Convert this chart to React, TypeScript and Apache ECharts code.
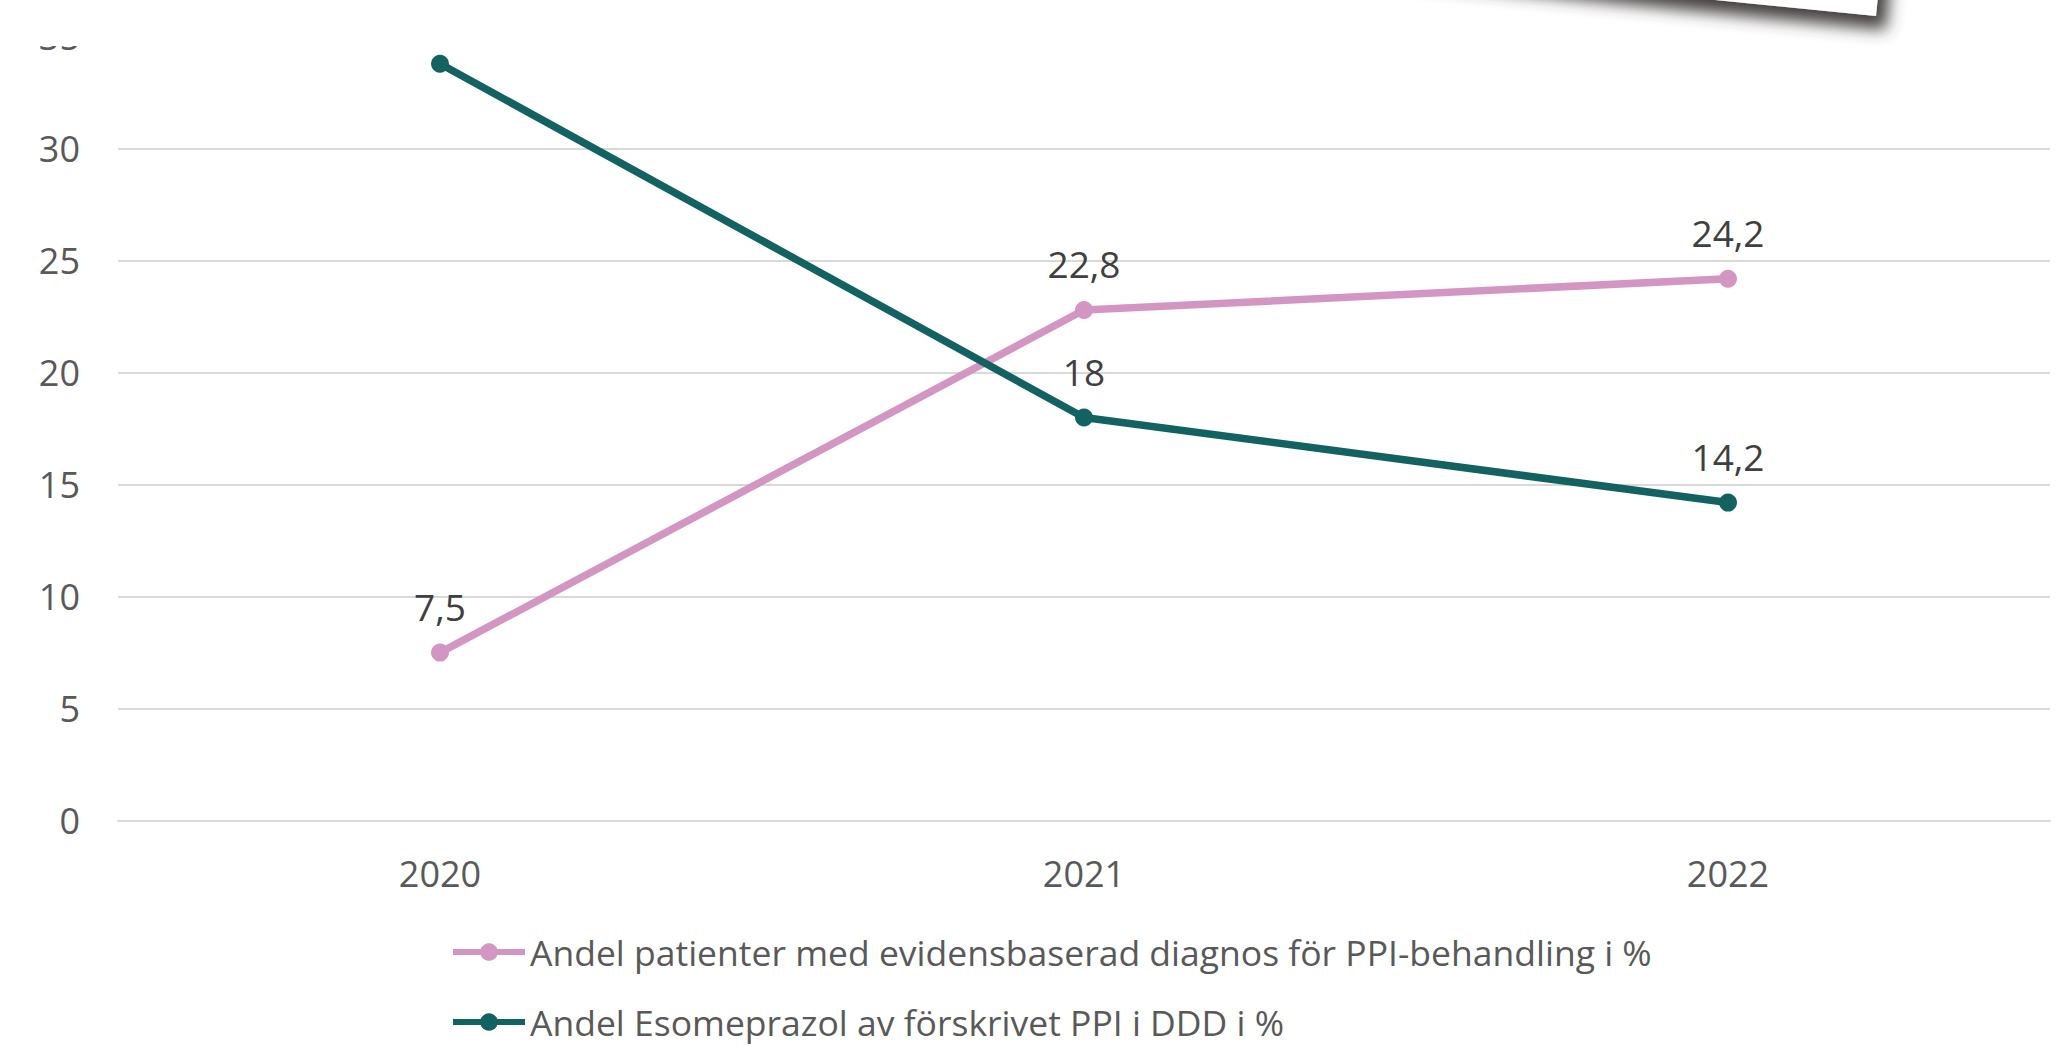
import React, { useEffect, useRef } from "react";
import * as echarts from "echarts";

const categories = ["2020", "2021", "2022"];
const pinkName = "Andel patienter med evidensbaserad diagnos för PPI-behandling i %";
const tealName = "Andel Esomeprazol av förskrivet PPI i DDD i %";
const pinkValues = [7.5, 22.8, 24.2];
const tealValues = [33.8, 18, 14.2];
const tealHiddenLabels = [true, false, false];
const yMin = 0;
const yMax = 35;
const yInterval = 5;

const PINK = "#d396c3";
const TEAL = "#136262";
const FONT = "Open Sans";

const fmt = (v: number) => String(v).replace(".", ",");

export default function App() {
  const ref = useRef<HTMLDivElement>(null);
  useEffect(() => {
    document.body.style.margin = "0";
    const chart = echarts.init(ref.current!, null, { renderer: "svg" });
    const labelCfg = {
      show: true,
      position: "top",
      distance: 19,
      fontFamily: FONT,
      fontSize: 37,
      color: "#404040",
      formatter: (p: any) => fmt(p.value),
    };
    chart.setOption({
      animation: false,
      backgroundColor: "#ffffff",
      textStyle: { fontFamily: FONT },
      grid: { left: 118, right: 15, top: 36.9, bottom: 225.5, containLabel: false },
      xAxis: {
        type: "category",
        data: categories,
        boundaryGap: true,
        axisLine: { show: true, lineStyle: { color: "#d9d9d9", width: 2 } },
        axisTick: { show: false },
        axisLabel: { margin: 35, fontFamily: FONT, fontSize: 36, color: "#595959" },
      },
      yAxis: {
        type: "value",
        min: yMin,
        max: yMax,
        interval: yInterval,
        axisLine: { show: false },
        axisTick: { show: false },
        splitLine: { lineStyle: { color: "#d9d9d9", width: 2 } },
        axisLabel: { margin: 38, fontFamily: FONT, fontSize: 36, color: "#595959" },
      },
      legend: {
        orient: "vertical",
        left: 450,
        top: 932,
        padding: 0,
        itemWidth: 72,
        itemHeight: 22,
        itemGap: 30,
        lineStyle: { width: 6 },
        textStyle: { fontFamily: FONT, fontSize: 35.5, color: "#595959", lineHeight: 40 },
        data: [pinkName, tealName],
      },
      series: [
        {
          name: pinkName,
          type: "line",
          data: pinkValues,
          symbol: "circle",
          symbolSize: 18,
          lineStyle: { color: PINK, width: 7.5 },
          itemStyle: { color: PINK },
          label: labelCfg,
        },
        {
          name: tealName,
          type: "line",
          data: tealValues.map((v, i) =>
            tealHiddenLabels[i] ? { value: v, label: { show: false } } : v
          ),
          symbol: "circle",
          symbolSize: 18,
          lineStyle: { color: TEAL, width: 7.5 },
          itemStyle: { color: TEAL },
          label: labelCfg,
        },
      ],
      graphic: [
        {
          type: "rect",
          z: 100,
          shape: { x: 0, y: 0, width: 2065, height: 46 },
          style: { fill: "#ffffff" },
        },
        {
          type: "polygon",
          z: 101,
          shape: {
            points: [
              [1876, 16],
              [876, -84],
              [876, -400],
              [1916, -385],
            ],
          },
          style: {
            fill: "#ffffff",
            shadowBlur: 16,
            shadowColor: "rgba(60,55,55,0.95)",
            shadowOffsetX: 10,
            shadowOffsetY: 14,
          },
        },
      ],
    });
    return () => chart.dispose();
  }, []);
  return <div ref={ref} style={{ width: 2065, height: 1046 }} />;
}
